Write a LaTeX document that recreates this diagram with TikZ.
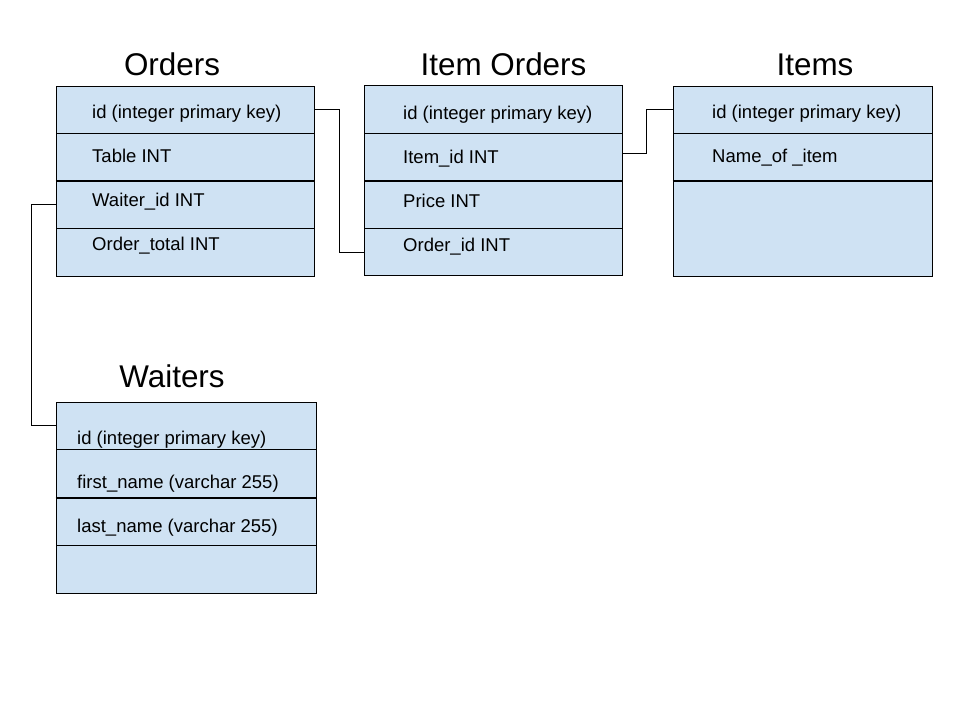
\documentclass[tikz,border=0pt]{standalone}
\usepackage{fontspec}
\setmainfont{Liberation Sans}
\definecolor{rowfill}{HTML}{CFE2F3}
\begin{document}
\begin{tikzpicture}[x=1pt,y=-1pt,
  row/.style={rectangle,draw=black,line width=0.9pt,fill=rowfill,inner sep=0pt,minimum width=258pt,minimum height=47.5pt},
  sep/.style={line width=2pt,black},
  field/.style={anchor=base west,inner sep=0pt,font=\fontsize{18.5}{22}\selectfont},
  title/.style={anchor=base,inner sep=0pt,font=\fontsize{31.4}{36}\selectfont},
  link/.style={draw=black,line width=0.9pt}]
\useasboundingbox (0,0) rectangle (960,720);
\fill[white] (0,0) rectangle (960,720);

% Orders
\node[title] (tO) at (172,75) {Orders};
\node[row] (o1) at (185,109.75) {};
\node[row] (o2) at (185,157.25) {};
\node[row] (o3) at (185,204.75) {};
\node[row] (o4) at (185,252.25) {};
\draw[sep] (o2.south west) -- (o2.south east);
\node[field] (fo1) at (92,118) {id (integer primary key)};
\node[field] (fo2) at (92,162) {Table INT};
\node[field] (fo3) at (92,206) {Waiter\_id INT};
\node[field] (fo4) at (92,250) {Order\_total INT};

% Item Orders
\node[title] (tIO) at (503.5,75) {Item Orders};
\node[row] (io1) at (493.75,109.5) {};
\node[row] (io2) at (493.75,157) {};
\node[row] (io3) at (493.75,204.5) {};
\node[row] (io4) at (493.75,252) {};
\draw[sep] (io2.south west) -- (io2.south east);
\node[field] (fio1) at (403,119) {id (integer primary key)};
\node[field] (fio2) at (403,163) {Item\_id INT};
\node[field] (fio3) at (403,207) {Price INT};
\node[field] (fio4) at (403,251) {Order\_id INT};

% Items
\node[title] (tI) at (815,75) {Items};
\node[row,minimum width=259pt] (it1) at (802.5,109.75) {};
\node[row,minimum width=259pt] (it2) at (802.5,157.25) {};
\node[row,minimum width=259pt,minimum height=95pt] (it3) at (802.5,228.5) {};
\draw[sep] (it2.south west) -- (it2.south east);
\node[field] (fit1) at (712,118) {id (integer primary key)};
\node[field] (fit2) at (712,162) {Name\_of \_item};

% Waiters
\node[title] (tW) at (172,387) {Waiters};
\node[row,minimum width=260pt,minimum height=47.75pt] (w1) at (186,425.875) {};
\node[row,minimum width=260pt,minimum height=47.75pt] (w2) at (186,473.625) {};
\node[row,minimum width=260pt,minimum height=47.75pt] (w3) at (186,521.375) {};
\node[row,minimum width=260pt,minimum height=47.75pt] (w4) at (186,569.125) {};
\draw[sep] (w2.south west) -- (w2.south east);
\node[field] (fw1) at (77,444) {id (integer primary key)};
\node[field] (fw2) at (77,488) {first\_name (varchar 255)};
\node[field] (fw3) at (77,532) {last\_name (varchar 255)};

% Connectors
\draw[link] (o1.east) -- ++(25,0) |- (io4.west);
\draw[link] ([yshift=4pt]io2.east) -- ++(23,0) |- (it1.west);
\draw[link] (o3.west) -- ++(-24,0) |- (w1.west);
\end{tikzpicture}
\end{document}
